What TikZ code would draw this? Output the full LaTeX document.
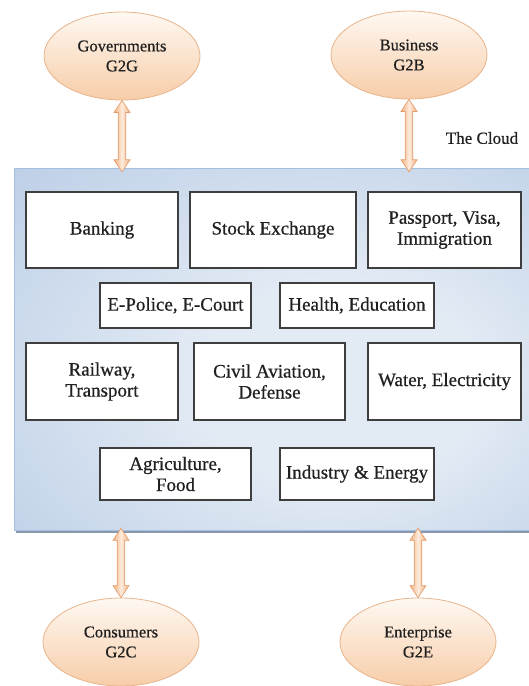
\documentclass[tikz,border=0pt]{standalone}
\usepackage{fontspec}
\setmainfont{Liberation Serif}
\newfontfamily\tmsfont[FakeBold=0.6]{Liberation Serif}
\usetikzlibrary{shapes.geometric,calc}
\definecolor{txt}{HTML}{202020}
\definecolor{boxline}{HTML}{3E3E3E}
\definecolor{cloudc}{HTML}{E2EAF4}
\definecolor{cloudm}{HTML}{BACDE6}
\definecolor{cloude}{HTML}{8EAFDA}
\definecolor{cloudshadow}{HTML}{8A98AC}
\definecolor{elltop}{HTML}{FEF8F2}
\definecolor{ellbot}{HTML}{F7CDA8}
\definecolor{elledge}{HTML}{E8B48C}
\definecolor{arrowside}{HTML}{F2B485}
\definecolor{arrowmid}{HTML}{FDEBDB}
\definecolor{arrowedge}{HTML}{E39D6C}
\pgfdeclareradialshading{cloudshade}{\pgfpoint{8bp}{-6bp}}{color(0bp)=(cloudc); color(14bp)=(cloudc); color(42bp)=(cloudm); color(70bp)=(cloude)}
\tikzset{
  party/.style={ellipse, draw=elledge, line width=0.8pt, top color=elltop, bottom color=ellbot,
    minimum width=156pt, minimum height=88pt, inner sep=0pt, align=center, text=txt,
    font=\tmsfont\fontsize{16.5}{20}\selectfont},
  service/.style={rectangle, draw=boxline, line width=1.4pt, fill=white, inner sep=0pt,
    align=center, text=txt, font=\tmsfont\fontsize{19}{21}\selectfont},
  arrowshape/.style={draw=arrowedge, line width=0.7pt, left color=arrowside, right color=arrowside, middle color=arrowmid},
}
\newcommand\duarrow[2]{%
  \path[arrowshape] let \p1=(#1), \p2=(#2) in
  (\x1,\y1) -- (\x1+8pt,\y1-12pt) -- (\x1+3.8pt,\y1-12pt) -- (\x1+3.8pt,\y2+12pt) -- (\x1+8pt,\y2+12pt)
  -- (\x1,\y2) -- (\x1-8pt,\y2+12pt) -- (\x1-3.8pt,\y2+12pt) -- (\x1-3.8pt,\y1-12pt) -- (\x1-8pt,\y1-12pt) -- cycle;}
\begin{document}
\begin{tikzpicture}[x=1pt,y=-1pt]
\useasboundingbox (0,0) rectangle (529,686);
\fill[white] (0,0) rectangle (529,686);
% cloud
\fill[cloudshadow] (16,171) rectangle (533,533);
\node[rectangle, minimum width=517pt, minimum height=362pt, inner sep=0pt, draw=cloude!80!white, line width=0.5pt, shading=cloudshade] (cloud) at (272.5,349) {};
\node[text=txt, font=\tmsfont\fontsize{17}{20}\selectfont] (label) at (482,138) {The Cloud};
% parties
\node[party] (gov) at (122,56) {Governments\\G2G};
\node[party] (bus) at (409,55) {Business\\G2B};
\node[party] (con) at (121,642) {Consumers\\G2C};
\node[party] (ent) at (418,642) {Enterprise\\G2E};
% services
\node[service, minimum width=152pt, minimum height=76pt] (bank) at (102,230) {Banking};
\node[service, minimum width=166pt, minimum height=76pt] (stock) at (273,230) {Stock Exchange};
\node[service, minimum width=153pt, minimum height=76pt] (pass) at (444.5,230) {Passport, Visa,\\Immigration};
\node[service, minimum width=151pt, minimum height=45pt] (police) at (175.5,305.5) {E-Police, E-Court};
\node[service, minimum width=154pt, minimum height=45pt] (health) at (357,305.5) {Health, Education};
\node[service, minimum width=152pt, minimum height=77pt] (rail) at (102,381.5) {Railway,\\Transport};
\node[service, minimum width=151pt, minimum height=77pt] (civil) at (269.5,381.5) {Civil Aviation,\\Defense};
\node[service, minimum width=153pt, minimum height=77pt] (water) at (444.5,381.5) {Water, Electricity};
\node[service, minimum width=151pt, minimum height=52pt] (agri) at (175.5,474) {Agriculture,\\Food};
\node[service, minimum width=154pt, minimum height=52pt] (ind) at (357,474) {Industry \& Energy};
% connectors
\coordinate (govin) at ($(gov.south |- cloud.north)+(0,4)$);
\coordinate (busin) at ($(bus.south |- cloud.north)+(0,4)$);
\coordinate (conout) at ($(con.north |- cloud.south)+(0,-2)$);
\coordinate (entout) at ($(ent.north |- cloud.south)+(0,-2)$);
\duarrow{gov.south}{govin}
\duarrow{bus.south}{busin}
\duarrow{conout}{con.north}
\duarrow{entout}{ent.north}
\end{tikzpicture}
\end{document}
